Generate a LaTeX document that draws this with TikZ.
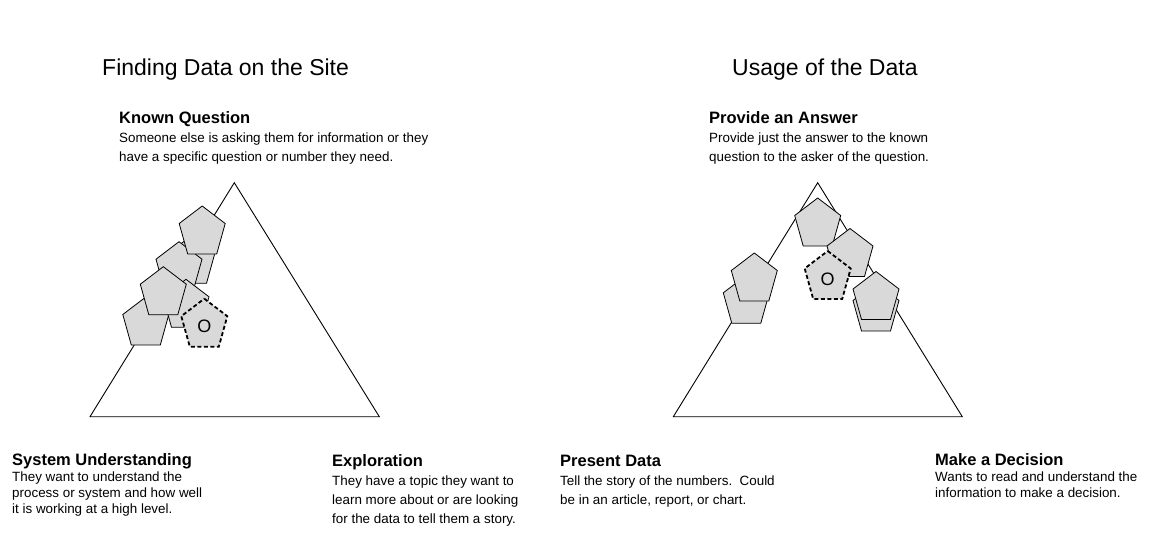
\documentclass[tikz,border=0pt]{standalone}
\usepackage{fontspec}
\setmainfont{Liberation Sans}
\definecolor{pentgray}{RGB}{217,217,217}
\begin{document}
\begin{tikzpicture}[x=1pt,y=-1pt,
  pentshape/.pic={\path[pic actions] (0,-24) -- (23,-6.5) -- (14.5,24) -- (-14.5,24) -- (-23,-6.5) -- cycle;},
  pentpic/.style={draw=black, fill=pentgray, line width=0.8pt},
  ownpic/.style={draw=black, fill=pentgray, line width=1.8pt, dash pattern=on 4pt off 2.5pt},
  tri/.style={draw=black, line width=0.9pt},
  title/.style={font=\fontsize{23}{27}\selectfont, anchor=base west, inner sep=0pt},
  head/.style={font=\bfseries\fontsize{16.5}{20}\selectfont, anchor=base west, inner sep=0pt},
  body/.style={font=\fontsize{13.4}{16}\selectfont, anchor=base west, inner sep=0pt},
  omark/.style={font=\fontsize{18}{20}\selectfont, inner sep=0pt}
]
\useasboundingbox (0,0) rectangle (1157,541);

% ---------- left triangle: finding data on the site ----------
\coordinate (la) at (234.3,182.7);
\coordinate (lb) at (90,416.7);
\coordinate (lc) at (379.3,416.7);
\draw[tri] (la) -- (lc) -- (lb) -- cycle;

\pic[pentpic] at (192,259.3) {pentshape};
\pic[pentpic] at (179,265.7) {pentshape};
\pic[pentpic] at (202.2,230) {pentshape};
\pic[pentpic] at (145.8,321) {pentshape};
\pic[pentpic] at (186,303.3) {pentshape};
\pic[pentpic] at (163.3,290.7) {pentshape};
\pic[ownpic] at (204.3,322.7) {pentshape};
\node[omark] (lo) at (204.3,326.5) {O};

% ---------- right triangle: usage of the data ----------
\coordinate (ra) at (817.7,182.7);
\coordinate (rb) at (673.3,416.7);
\coordinate (rc) at (962.3,416.7);
\draw[tri] (ra) -- (rc) -- (rb) -- cycle;

\pic[pentpic] at (817.7,222) {pentshape};
\pic[pentpic] at (850,252.5) {pentshape};
\pic[pentpic] at (746.3,299.3) {pentshape};
\pic[pentpic] at (754.3,277) {pentshape};
\pic[pentpic] at (876,307) {pentshape};
\pic[pentpic] at (876,295.5) {pentshape};
\pic[ownpic] at (827.7,275) {pentshape};
\node[omark] (ro) at (827.7,279) {O};

% ---------- titles ----------
\node[title] (t1) at (102,75) {Finding Data on the Site};
\node[title] (t2) at (732,75) {Usage of the Data};

% ---------- corner labels, left ----------
\node[head] (kq) at (119,123) {Known Question};
\node[body] (kq1) at (119,142) {Someone else is asking them for information or they};
\node[body] (kq2) at (119,161) {have a specific question or number they need.};

\node[head] (su) at (12,465) {System Understanding};
\node[body] (su1) at (12,481) {They want to understand the};
\node[body] (su2) at (12,497) {process or system and how well};
\node[body] (su3) at (12,513) {it is working at a high level.};

\node[head] (ex) at (332,466) {Exploration};
\node[body] (ex1) at (332,485) {They have a topic they want to};
\node[body] (ex2) at (332,504) {learn more about or are looking};
\node[body] (ex3) at (332,523) {for the data to tell them a story.};

% ---------- corner labels, right ----------
\node[head] (pa) at (709,123) {Provide an Answer};
\node[body] (pa1) at (709,142) {Provide just the answer to the known};
\node[body] (pa2) at (709,161) {question to the asker of the question.};

\node[head] (pd) at (560,466) {Present Data};
\node[body] (pd1) at (560,485) {Tell the story of the numbers.\ \ Could};
\node[body] (pd2) at (560,504) {be in an article, report, or chart.};

\node[head] (md) at (935,465) {Make a Decision};
\node[body] (md1) at (935,481) {Wants to read and understand the};
\node[body] (md2) at (935,497) {information to make a decision.};
\end{tikzpicture}
\end{document}
